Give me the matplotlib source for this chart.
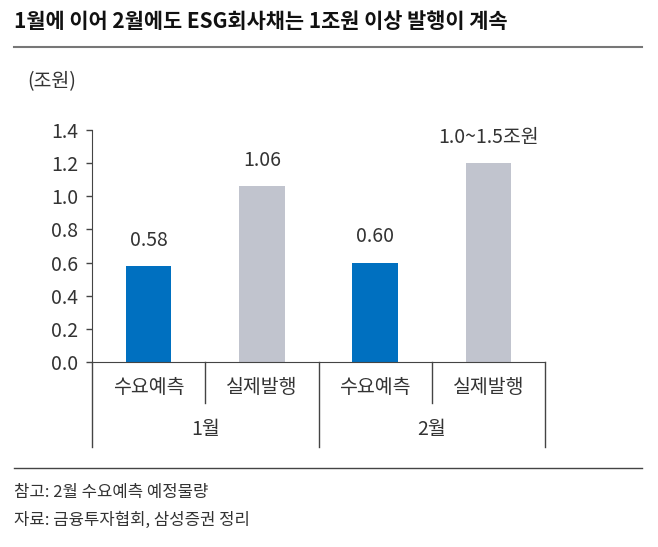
import matplotlib.pyplot as plt
from matplotlib.lines import Line2D

plt.rcParams['font.family'] = ['Noto Sans CJK KR', 'DejaVu Sans']

# 데이터
항목 = ["수요예측", "실제발행", "수요예측", "실제발행"]
월 = ["1월", "2월"]
값 = [0.58, 1.06, 0.60, 1.20]
라벨 = ["0.58", "1.06", "0.60", "1.0~1.5조원"]
색 = ["#0070C0", "#C1C4CE", "#0070C0", "#C1C4CE"]

글자색 = "#333333"

fig = plt.figure(figsize=(6.58, 5.47), dpi=100)
ax = fig.add_axes([92 / 658, 1 - 362 / 547, 453 / 658, 232 / 547])

x = list(range(len(값)))
ax.bar(x, 값, width=0.4, color=색, zorder=2)
for xi, v, t in zip(x, 값, 라벨):
    ax.annotate(t, (xi, v), xytext=(0, 11), textcoords="offset points",
                ha="center", va="bottom", fontsize=14, color=글자색)

ax.set_xlim(-0.5, 3.5)
ax.set_ylim(0, 1.4)
ax.set_yticks([0.0, 0.2, 0.4, 0.6, 0.8, 1.0, 1.2, 1.4])
ax.set_yticklabels([f"{v:.1f}" for v in ax.get_yticks()])
ax.tick_params(axis="y", direction="out", length=4, width=1, colors="#444444",
               labelsize=14, labelcolor=글자색, pad=6)
ax.set_xticks([])

for s in ["top", "right"]:
    ax.spines[s].set_visible(False)
ax.spines["left"].set_color("#444444")
ax.spines["bottom"].set_color("#444444")

# 2단 x축 구분선
tr = ax.get_xaxis_transform()
for xs in [-0.5, 1.5, 3.5]:
    ax.add_line(Line2D([xs, xs], [0, -0.366], transform=tr, color="#444444",
                       lw=1, clip_on=False))
for xs in [0.5, 2.5]:
    ax.add_line(Line2D([xs, xs], [0, -0.177], transform=tr, color="#444444",
                       lw=1, clip_on=False))

for xi, t in zip(x, 항목):
    ax.text(xi, -0.108, t, transform=tr, ha="center", va="center",
            fontsize=14, color=글자색)
for i, t in enumerate(월):
    ax.text(2 * i + 0.5, -0.293, t, transform=tr, ha="center", va="center",
            fontsize=14, color=글자색)

ax.text(-0.09, 1.21, "(조원)", transform=ax.transAxes, ha="center", va="center",
        fontsize=14, color=글자색)

# 제목과 구분선
fig.text(14 / 658, 1 - 21 / 547, "1월에 이어 2월에도 ESG회사채는 1조원 이상 발행이 계속",
         ha="left", va="center", fontsize=15, fontweight="bold", color="#111111")
fig.add_artist(Line2D([14 / 658, 642 / 658], [1 - 47 / 547, 1 - 47 / 547],
                      color="#777777", lw=1.5))
fig.add_artist(Line2D([14 / 658, 642 / 658], [1 - 468 / 547, 1 - 468 / 547],
                      color="#444444", lw=1))

fig.text(14 / 658, 1 - 492 / 547, "참고: 2월 수요예측 예정물량", ha="left", va="center",
         fontsize=12, color=글자색)
fig.text(14 / 658, 1 - 520 / 547, "자료: 금융투자협회, 삼성증권 정리", ha="left", va="center",
         fontsize=12, color=글자색)

fig.savefig("out.png", dpi=100, facecolor="white")
